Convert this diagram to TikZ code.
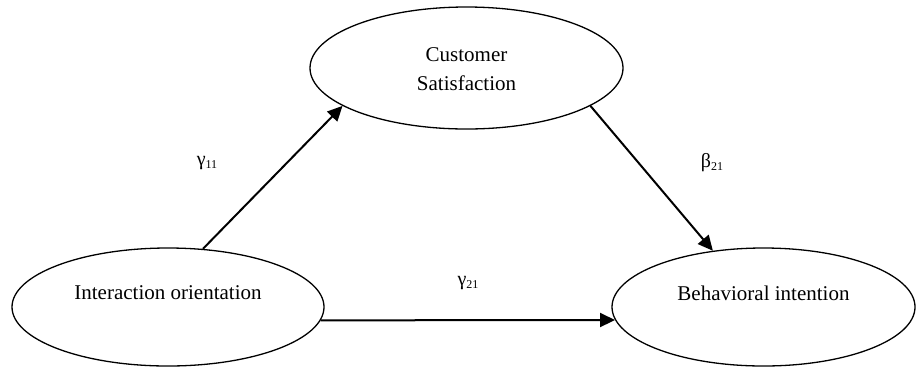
\documentclass[tikz,border=0pt]{standalone}
\usepackage{fontspec}
\setmainfont{Liberation Serif}
\usetikzlibrary{shapes.geometric,arrows.meta}
\begin{document}
\begin{tikzpicture}[x=1pt,y=-1pt,
  latent/.style={ellipse,draw,line width=1.3pt,inner sep=0pt},
  txt/.style={font=\fontsize{21}{29}\selectfont,inner sep=0pt,align=center},
  coef/.style={font=\fontsize{20}{24}\selectfont,inner sep=0pt},
  effect/.style={line width=2pt,-{Triangle[length=15pt,width=14pt]}}]
\useasboundingbox (0,0) rectangle (917,368);
\newcommand{\subn}[1]{\raisebox{-3pt}{\fontsize{12}{12}\selectfont #1}}
% latent constructs
\node[latent,minimum width=313,minimum height=122] (cs) at (466.5,68) {};
\node[latent,minimum width=312,minimum height=118] (io) at (168,307) {};
\node[latent,minimum width=303,minimum height=118] (bi) at (763.5,307) {};
% texts
\node[txt] (cst) at (466.5,69) {Customer\\Satisfaction};
\node[txt] (iot) at (168,293) {Interaction orientation};
\node[txt] (bit) at (763.5,293) {Behavioral intention};
% paths
\draw[effect] (io.59) -- (cs.197.6);
\draw[effect] (cs.343.6) -- (bi.132.8);
\draw[effect] (io.-5) -- (bi.185);
% coefficients
\node[coef] (g11) at (207,163) {γ\subn{11}};
\node[coef] (b21) at (712,163) {β\subn{21}};
\node[coef] (g21) at (468,283) {γ\subn{21}};
\end{tikzpicture}
\end{document}
